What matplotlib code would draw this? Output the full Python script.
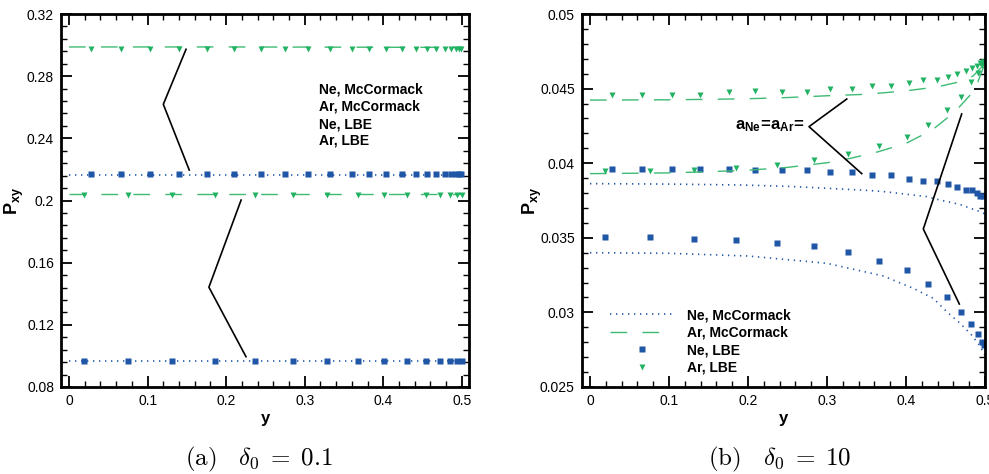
import numpy as np
import matplotlib.pyplot as plt
from matplotlib.ticker import MultipleLocator

plt.rcParams['font.family'] = ['Liberation Sans', 'DejaVu Sans']
plt.rcParams['mathtext.fontset'] = 'custom'
plt.rcParams['mathtext.rm'] = 'Liberation Sans'
plt.rcParams['mathtext.bf'] = 'Liberation Sans:bold'
plt.rcParams['mathtext.it'] = 'Liberation Sans:italic'

BLUE = '#1f57a6'
GREEN = '#21b363'
GREEN_LINE = '#3dbb74'

labels = ['Ne, McCormack', 'Ar, McCormack', 'Ne, LBE', 'Ar, LBE']

# ---- (a) delta0 = 0.1 ----
xa_mc = [0.0, 0.1, 0.2, 0.3, 0.4, 0.5]
ne_up_mc_a = [0.2167, 0.2167, 0.2167, 0.2167, 0.2167, 0.2167]
ar_up_mc_a = [0.2988, 0.2988, 0.2988, 0.2987, 0.2986, 0.2985]
ne_lo_mc_a = [0.0965, 0.0965, 0.0965, 0.0965, 0.0965, 0.0965]
ar_lo_mc_a = [0.2045, 0.2045, 0.2045, 0.2045, 0.2045, 0.2045]

xa_up = [0.028, 0.0665, 0.1035, 0.140, 0.176, 0.210, 0.244, 0.275, 0.3045, 0.332, 0.3597,
         0.382, 0.4033, 0.4237, 0.4415, 0.455, 0.467, 0.478, 0.486, 0.492, 0.496, 0.499]
ne_up_lbe_a = [0.2169, 0.2169, 0.2169, 0.2169, 0.2169, 0.2169, 0.2169, 0.2169, 0.2169, 0.2169, 0.2169,
               0.2169, 0.2169, 0.2169, 0.2169, 0.2169, 0.2169, 0.2169, 0.2169, 0.2169, 0.2169, 0.2169]
ar_up_lbe_a = [0.2977, 0.2977, 0.2977, 0.2977, 0.2977, 0.2977, 0.2977, 0.2977, 0.2977, 0.2977, 0.2977,
               0.2977, 0.2977, 0.2977, 0.2977, 0.2977, 0.2977, 0.2977, 0.2977, 0.2977, 0.2977, 0.2977]

xa_lo = [0.0195, 0.0755, 0.131, 0.186, 0.237, 0.285, 0.3287, 0.368, 0.401, 0.430, 0.4538,
         0.4724, 0.485, 0.494, 0.4996]
ne_lo_lbe_a = [0.0965, 0.0965, 0.0965, 0.0965, 0.0965, 0.0965, 0.0965, 0.0965, 0.0965, 0.0965, 0.0965,
               0.0965, 0.0965, 0.0965, 0.0965]
ar_lo_lbe_a = [0.2033, 0.2033, 0.2033, 0.2033, 0.2033, 0.2033, 0.2033, 0.2033, 0.2033, 0.2033, 0.2033,
               0.2033, 0.2033, 0.2033, 0.2033]

# ---- (b) delta0 = 10 ----
xb_ne_up = [0.0, 0.1, 0.19, 0.25, 0.3, 0.35, 0.3734, 0.426, 0.443, 0.468, 0.4937, 0.5]
ne_up_mc_b = [0.03863, 0.0386, 0.03854, 0.03845, 0.03832, 0.03818, 0.03809, 0.03776, 0.03753, 0.03724,
              0.03675, 0.0366]
xb_ne_lo = [0.0, 0.1, 0.2, 0.3, 0.3713, 0.4093, 0.4346, 0.4515, 0.4684, 0.4831, 0.4937, 0.5]
ne_lo_mc_b = [0.034, 0.03396, 0.03378, 0.03329, 0.03244, 0.03161, 0.03094, 0.03005, 0.02927, 0.02848,
              0.02775, 0.0271]
xb_ar_up = [0.0, 0.1, 0.15, 0.2, 0.25, 0.3, 0.35, 0.4, 0.44, 0.47, 0.485, 0.495, 0.5]
ar_up_mc_b = [0.04423, 0.04425, 0.04428, 0.04432, 0.0444, 0.04452, 0.04462, 0.04485, 0.04512, 0.04548,
              0.04585, 0.0464, 0.04672]
xb_ar_mid = [0.0, 0.1, 0.15, 0.2, 0.25, 0.3, 0.33, 0.365, 0.4, 0.433, 0.462, 0.487, 0.5]
ar_mid_mc_b = [0.0393, 0.03935, 0.03943, 0.03953, 0.03972, 0.04003, 0.04033, 0.04077, 0.04133, 0.04222,
               0.04345, 0.0449, 0.0467]

xb_up = [0.0283, 0.0662, 0.1034, 0.1397, 0.1755, 0.2089, 0.2426, 0.2743, 0.3038, 0.332, 0.3574,
         0.3814, 0.4034, 0.422, 0.4388, 0.4536, 0.465, 0.4755, 0.483, 0.4895, 0.4937, 0.4979]
ne_up_lbe_b = [0.03959, 0.03959, 0.03959, 0.03959, 0.03959, 0.03956, 0.03956, 0.03956, 0.0394, 0.0394,
               0.03919, 0.03919, 0.03896, 0.03879, 0.03879, 0.03859, 0.03838, 0.03818, 0.03818, 0.038,
               0.0378, 0.0378]
ar_up_lbe_b = [0.04457, 0.04457, 0.04457, 0.04457, 0.04475, 0.04482, 0.04477, 0.04477, 0.04497, 0.04495,
               0.04515, 0.04517, 0.0454, 0.04556, 0.04558, 0.04576, 0.04598, 0.04618, 0.04635, 0.0465,
               0.0467, 0.0468]

xb_lo = [0.0194, 0.0763, 0.132, 0.1848, 0.2371, 0.2839, 0.327, 0.3662, 0.4008, 0.4283, 0.4523,
         0.4696, 0.4827, 0.4916, 0.4958, 0.4983]
ne_lo_lbe_b = [0.03503, 0.03503, 0.0349, 0.03483, 0.03463, 0.03443, 0.03403, 0.03342, 0.03282, 0.03188,
               0.03101, 0.03001, 0.0292, 0.02853, 0.028, 0.0278]
ar_mid_lbe_b = [0.03946, 0.03948, 0.03954, 0.0397, 0.0399, 0.0402, 0.04062, 0.04113, 0.04178, 0.04258,
                0.04357, 0.04446, 0.04544, 0.04607, 0.04655, 0.04675]

DOT = (0, (0.8, 2.8))
DASH = (0, (12, 11))


def style_axes(ax, xmaj, xmin, ymaj, ymin):
    ax.xaxis.set_major_locator(MultipleLocator(xmaj))
    ax.xaxis.set_minor_locator(MultipleLocator(xmin))
    ax.yaxis.set_major_locator(MultipleLocator(ymaj))
    ax.yaxis.set_minor_locator(MultipleLocator(ymin))
    ax.tick_params(which='both', direction='in', top=True, right=True, labelsize=10)
    ax.tick_params(which='major', length=8, width=1.3, pad=5)
    ax.tick_params(which='minor', length=4, width=1.0)
    for s in ax.spines.values():
        s.set_linewidth(2)
    ax.set_xlabel('y', fontsize=12, fontweight='bold', labelpad=2)


def draw_series(ax, x_mc, y_mc, x_pts, y_pts, kind, label_mc=None, label_pts=None):
    if kind == 'ne':
        ax.plot(x_mc, y_mc, color=BLUE, lw=1.2, linestyle=DOT, label=label_mc)
        ax.plot(x_pts, y_pts, 's', color=BLUE, ms=4.3, mec='none', label=label_pts)
    else:
        ax.plot(x_mc, y_mc, color=GREEN_LINE, lw=1.0, linestyle=DASH, label=label_mc)
        ax.plot(x_pts, y_pts, 'v', color=GREEN, ms=4.8, mec='none', label=label_pts)


fig = plt.figure(figsize=(9.89, 4.74), dpi=100)
ax1 = fig.add_axes([61 / 989, 87 / 474, 408 / 989, 373 / 474])
ax2 = fig.add_axes([581.7 / 989, 87 / 474, 403.3 / 989, 373 / 474])

# panel (a)
draw_series(ax1, xa_mc, ar_up_mc_a, xa_up, ar_up_lbe_a, 'ar')
draw_series(ax1, xa_mc, ne_up_mc_a, xa_up, ne_up_lbe_a, 'ne')
draw_series(ax1, xa_mc, ar_lo_mc_a, xa_lo, ar_lo_lbe_a, 'ar')
draw_series(ax1, xa_mc, ne_lo_mc_a, xa_lo, ne_lo_lbe_a, 'ne')
ax1.plot([0.1489, 0.120, 0.153], [0.2973, 0.2619, 0.2196], color='black', lw=1.2)
ax1.plot([0.219, 0.178, 0.2252], [0.2003, 0.1442, 0.0995], color='black', lw=1.2)
for i, lab in enumerate(labels):
    ax1.text(0.318, [0.2717, 0.2608, 0.2492, 0.2383][i], lab, fontsize=10, fontweight='bold', va='center')
ax1.set_xlim(-0.0102, 0.509)
ax1.set_ylim(0.08, 0.32)
style_axes(ax1, 0.1, 0.02, 0.04, 0.008)
ax1.yaxis.set_major_formatter(plt.FuncFormatter(lambda v, p: f'{v:.2f}'.rstrip('0') if v != 0 else '0'))
ax1.xaxis.set_major_formatter(plt.FuncFormatter(lambda v, p: f'{v:.1f}' if abs(v) > 1e-9 else '0'))
ax1.set_ylabel(r'$\mathbf{P}_{\mathbf{xy}}$', fontsize=13)
ax1.yaxis.set_label_coords(-0.086, 0.5)

# panel (b)
draw_series(ax2, xb_ne_up, ne_up_mc_b, xb_up, ne_up_lbe_b, 'ne', labels[0], labels[2])
draw_series(ax2, xb_ar_up, ar_up_mc_b, xb_up, ar_up_lbe_b, 'ar', labels[1], labels[3])
draw_series(ax2, xb_ne_lo, ne_lo_mc_b, xb_lo, ne_lo_lbe_b, 'ne')
draw_series(ax2, xb_ar_mid, ar_mid_mc_b, xb_lo, ar_mid_lbe_b, 'ar')
ax2.plot([0.325, 0.2772, 0.344], [0.0443, 0.04245, 0.0393], color='black', lw=1.2)
ax2.plot([0.4705, 0.4219, 0.4675], [0.0433, 0.03559, 0.03056], color='black', lw=1.2)
ax2.text(0.1835, 0.04245, r'$\mathbf{a}_{\mathbf{Ne}}\!\mathbf{=}\!\mathbf{a}_{\mathbf{Ar}}\!\mathbf{=}$',
         fontsize=12, va='center')
ax2.set_xlim(-0.0105, 0.5)
ax2.set_ylim(0.025, 0.05)
style_axes(ax2, 0.1, 0.02, 0.005, 0.001)
ax2.yaxis.set_major_formatter(plt.FuncFormatter(lambda v, p: f'{v:.3f}'.rstrip('0')))
ax2.xaxis.set_major_formatter(plt.FuncFormatter(lambda v, p: f'{v:.1f}' if abs(v) > 1e-9 else '0'))
ax2.set_ylabel(r'$\mathbf{P}_{\mathbf{xy}}$', fontsize=13)
ax2.yaxis.set_label_coords(-0.093, 0.5)

h, l = ax2.get_legend_handles_labels()
order = [l.index(s) for s in labels]
ax2.legend([h[i] for i in order], [l[i] for i in order], loc='lower left',
           bbox_to_anchor=(0.04, 0.0), frameon=False, prop={'weight': 'bold', 'size': 10},
           handlelength=4.5, handletextpad=1.0, labelspacing=0.25, numpoints=1)

fig.text(259 / 989, 1 - 459 / 474, r'$\mathrm{(a)}\quad\delta_0\;=\;0.1$', fontsize=18,
         math_fontfamily='cm', ha='center', va='center')
fig.text(780 / 989, 1 - 459 / 474, r'$\mathrm{(b)}\quad\delta_0\;=\;10$', fontsize=18,
         math_fontfamily='cm', ha='center', va='center')

fig.savefig('out.png', dpi=100)
